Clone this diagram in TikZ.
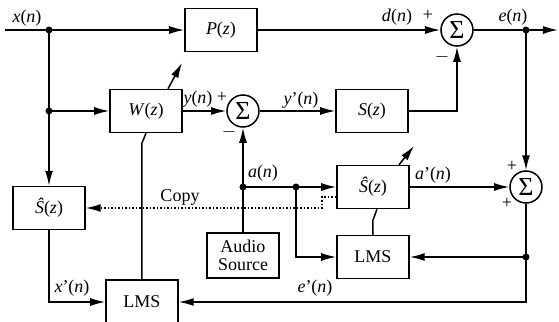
\documentclass[tikz,border=0pt]{standalone}
\usepackage{fontspec}
\setmainfont{Liberation Serif}
\usetikzlibrary{arrows.meta}

\newcommand{\lbl}[2]{\textit{#1}(\textit{#2})}

\begin{document}
\begin{tikzpicture}[x=0.5pt, y=-0.5pt, >={Latex[length=7.5pt,width=4pt]}, line width=0.75pt,
    font=\fontsize{9}{11}\selectfont,
    bloco/.style={draw, minimum width=36pt, minimum height=21.5pt, inner sep=1pt},
    soma/.style={draw, circle, minimum size=16pt, inner sep=0pt, font=\fontsize{13}{13}\selectfont},
    copia/.style={densely dotted, ->}]

    \useasboundingbox (0,0) rectangle (559,322);

    % Pontos de ramificacao
    \coordinate (XIN) at (5,30);
    \coordinate (JX) at (49,30);
    \coordinate (JW) at (49,111);
    \coordinate (JE) at (526,30);
    \coordinate (EOUT) at (558,30);
    \coordinate (JA) at (243,187);
    \coordinate (JB) at (296,187);
    \coordinate (JC) at (526,257);

    % Cotovelos das linhas de ajuste
    \coordinate (KW) at (142,143);
    \coordinate (KS) at (373,220);
    \coordinate (AW) at (182,63);
    \coordinate (AS2) at (414,146);
    \coordinate (CP) at (322,197);

    % --- Blocos ---
    \node[bloco] (P) at (221,30) {\lbl{P}{z}};
    \node[bloco] (W) at (146,111) {\lbl{W}{z}};
    \node[bloco] (S) at (372,111) {\lbl{S}{z}};
    \node[bloco] (SH1) at (49,208) {\lbl{Ŝ}{z}};
    \node[bloco] (SH2) at (373,187) {\lbl{Ŝ}{z}};
    \node[bloco] (LMS2) at (373,257) {LMS};
    \node[bloco, minimum height=22pt] (LMS1) at (142,302) {LMS};
    \node[bloco, align=center, minimum height=22.5pt] (AS) at (243,255.5) {Audio\\[-2pt]Source};

    % --- Somadores ---
    \node[soma] (SUM1) at (243,111) {Σ};
    \node[soma] (SUM2) at (457,30) {Σ};
    \node[soma] (SUM3) at (526,187) {Σ};

    % --- Caminho primario ---
    \draw[->] (XIN) -- (P);
    \draw[->] (P) -- (SUM2);
    \draw (SUM2) -- (JE);
    \draw[->] (JE) -- (EOUT);
    \draw[->] (JE) -- (SUM3);

    % --- Caminho secundario ---
    \draw (JX) -- (JW);
    \draw[->] (JW) -- (SH1);
    \draw[->] (JW) -- (W);
    \draw[->] (W) -- (SUM1);
    \draw[->] (SUM1) -- (S);
    \draw[->] (S) -| (SUM2);

    % --- Fonte de audio e modelagem ---
    \draw (AS) -- (JA);
    \draw[->] (JA) -- (SUM1);
    \draw (JA) -- (JB);
    \draw[->] (JB) -- (SH2);
    \draw[->] (JB) |- (LMS2);
    \draw[->] (SH2) -- (SUM3);
    \draw (SUM3) -- (JC);
    \draw[->] (JC) -- (LMS2);
    \draw[->] (JC) |- (LMS1);
    \draw[->] (SH1) |- (LMS1);

    % Linhas de ajuste dos filtros
    \draw (LMS1.north) -- (KW) -- (W.south);
    \draw (LMS2.north) -- (KS) -- ([xshift=2pt]SH2.south);
    \draw[->] ([xshift=11pt]W.north) -- (AW);
    \draw[->] ([xshift=13pt]SH2.north) -- (AS2);

    % Copia do modelo
    \draw[copia] ([yshift=-5pt]SH2.west) -- (CP) |- (SH1);

    % Pontos
    \fill (JX) circle (1.75pt);
    \fill (JW) circle (1.75pt);
    \fill (JE) circle (1.75pt);
    \fill (JA) circle (1.75pt);
    \fill (JB) circle (1.75pt);
    \fill (JC) circle (1.75pt);

    % --- Rotulos ---
    \node (LX) at (27,18) {\lbl{x}{n}};
    \node (LD) at (397,17) {\lbl{d}{n}};
    \node (LP2) at (428,15) {+};
    \node (LE) at (513,17) {\lbl{e}{n}};
    \node (LM2) at (442,57) {$-$};
    \node (LY) at (198,99) {\lbl{y}{n}};
    \node (LP1) at (222,97) {+};
    \node (LM1) at (229,132) {$-$};
    \node (LYP) at (301,100) {\textit{y}’(\textit{n})};
    \node (LA) at (263,173) {\lbl{a}{n}};
    \node (LAP) at (433,175) {\textit{a}’(\textit{n})};
    \node (LP3) at (512,166) {+};
    \node (LP4) at (507,203) {+};
    \node (LXP) at (72,288) {\textit{x}’(\textit{n})};
    \node (LEP) at (315,288) {\textit{e}’(\textit{n})};
    \node (LC) at (180,197) {Copy};

\end{tikzpicture}
\end{document}
